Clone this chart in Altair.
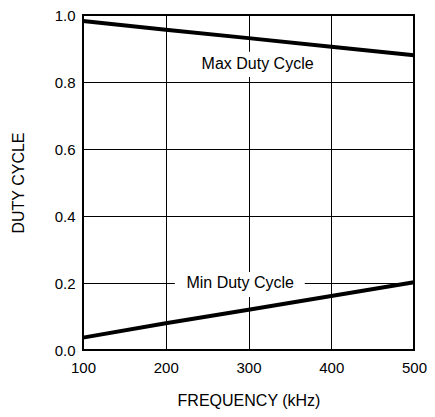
import altair as alt
import pandas as pd

freq = [100, 200, 300, 400, 500]
max_duty = [0.982, 0.956, 0.931, 0.905, 0.880]
min_duty = [0.037, 0.080, 0.120, 0.161, 0.202]

label_text = ["Max Duty Cycle", "Min Duty Cycle"]
label_x = [311, 290]
label_y = [0.855, 0.2]
box_x = [237, 211]
box_x2 = [389, 368]
box_y = [0.815, 0.158]
box_y2 = [0.890, 0.233]

lines = pd.DataFrame({
    "freq": freq * 2,
    "duty": max_duty + min_duty,
    "series": ["max"] * 5 + ["min"] * 5,
})
labels = pd.DataFrame({
    "text": label_text, "x": label_x, "y": label_y,
    "bx": box_x, "bx2": box_x2, "by": box_y, "by2": box_y2,
})

FONT = "Liberation Sans"

xs = alt.Scale(domain=[100, 500], nice=False)
ys = alt.Scale(domain=[0, 1.0], nice=False)

xaxis = alt.Axis(values=freq, title="FREQUENCY (kHz)", grid=True, ticks=False,
                 domain=False, labelPadding=10, titlePadding=17, format="d",
                 labelFlush=False)
yaxis = alt.Axis(values=[0, 0.2, 0.4, 0.6, 0.8, 1.0], title="DUTY CYCLE", grid=True,
                 ticks=False, domain=False, labelPadding=8, titlePadding=28, format=".1f",
                 labelFlush=False)

base_lines = alt.Chart(lines).mark_line(color="black", strokeWidth=4).encode(
    x=alt.X("freq:Q", scale=xs, axis=xaxis),
    y=alt.Y("duty:Q", scale=ys, axis=yaxis),
    detail="series:N",
)

boxes = alt.Chart(labels).mark_rect(color="white").encode(
    x=alt.X("bx:Q", scale=xs), x2="bx2:Q",
    y=alt.Y("by:Q", scale=ys), y2="by2:Q",
)

texts = alt.Chart(labels).mark_text(font=FONT, fontSize=16, color="black",
                                    align="center", baseline="middle").encode(
    x=alt.X("x:Q", scale=xs), y=alt.Y("y:Q", scale=ys), text="text:N",
)

chart = alt.layer(boxes, base_lines, texts).properties(
    width=331, height=335,
    autosize=alt.AutoSizeParams(type="none"),
    padding={"left": 75, "top": 7, "right": 13, "bottom": 62},
).configure_view(
    stroke="black", strokeWidth=2,
).configure_axis(
    gridColor="black", gridOpacity=1, gridWidth=1,
    labelFont=FONT, labelFontSize=15, labelColor="black",
    titleFont=FONT, titleFontSize=16, titleColor="black", titleFontWeight="normal",
)

chart.save("out.html", embed_options={"renderer": "svg", "actions": False})
